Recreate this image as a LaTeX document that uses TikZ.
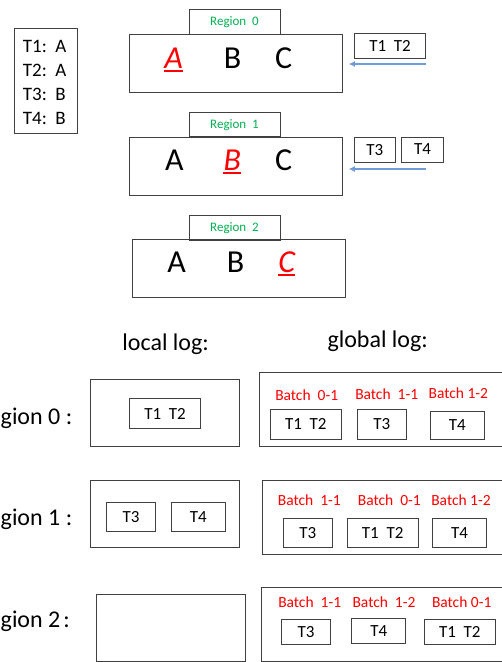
\documentclass[tikz,border=0pt]{standalone}
\usepackage{fontspec}
\setmainfont{Carlito}
\usetikzlibrary{arrows.meta}
\definecolor{boxline}{HTML}{404040}
\definecolor{regiongreen}{HTML}{00B050}
\definecolor{arrowblue}{HTML}{6F9BDB}
\tikzset{
  box/.style={draw=boxline, line width=1, inner sep=0, font=\fontsize{17}{20}\selectfont},
  lab/.style={box, text=regiongreen, font=\fontsize{13}{15}\selectfont},
  big/.style={inner sep=0, anchor=base, font=\fontsize{32}{34}\selectfont},
  hot/.style={big, text=red, font=\fontsize{32}{34}\selectfont\itshape},
  ul/.style={red, line width=1.8},
  feed/.style={arrowblue, line width=1.4, -{Latex[length=6,width=6]}},
  leg/.style={inner sep=0, anchor=base west, font=\fontsize{19}{22}\selectfont},
  head/.style={inner sep=0, anchor=base, font=\fontsize{24}{28}\selectfont},
  rowlab/.style={inner sep=0, anchor=base west, font=\fontsize{24}{28}\selectfont},
  batch/.style={inner sep=0, anchor=base, text=red, font=\fontsize{15.5}{18}\selectfont},
}
\begin{document}
\begin{tikzpicture}[x=1pt,y=-1pt]
\useasboundingbox (0,0) rectangle (502,662);
% legend
\node[box, minimum width=63, minimum height=105] (legend) at (46.2,80.8) {};
\node[leg] (l1) at (22.7,52.7) {T1:\ \ A};
\node[leg] (l2) at (22.7,76.7) {T2:\ \ A};
\node[leg] (l3) at (22.7,100.3) {T3:\ \ B};
\node[leg] (l4) at (22.7,124.2) {T4:\ \ B};
% region 0
\node[lab, minimum width=91, minimum height=24.7] (r0lab) at (234.5,21.7) {Region\ \ 0};
\node[box, minimum width=213.4, minimum height=58] (r0) at (236,63) {};
\node[hot] (r0a) at (173.7,68.3) {A};
\node[big] (r0b) at (232.7,68.3) {B};
\node[big] (r0c) at (283.7,68.3) {C};
\draw[ul] ([yshift=-2.6]r0a.base west) -- ([yshift=-2.6]r0a.base east);
\node[box, minimum width=71.4, minimum height=25, text depth=-3] (in0) at (390,46.2) {T1\ \ T2};
\coordinate (a0s) at (425.7,64);
\draw[feed] (a0s) -- ([xshift=5.6]r0.east |- a0s);
% region 1
\node[lab, minimum width=91, minimum height=24.3] (r1lab) at (234.5,124.8) {Region\ \ 1};
\node[box, minimum width=213.4, minimum height=58] (r1) at (236,166) {};
\node[big] (r1a) at (174.3,170.7) {A};
\node[hot] (r1b) at (232.3,170.7) {B};
\node[big] (r1c) at (283.7,170.7) {C};
\draw[ul] ([yshift=-2.6]r1b.base west) -- ([yshift=-2.6]r1b.base east);
\node[box, minimum width=40.7, minimum height=25, text depth=-3] (in1a) at (374.7,149.5) {T3};
\node[box, minimum width=41.6, minimum height=25, text depth=-3] (in1b) at (422.5,149.5) {T4};
\coordinate (a1s) at (425.7,169);
\draw[feed] (a1s) -- ([xshift=5.6]r1.east |- a1s);
% region 2
\node[lab, minimum width=91, minimum height=24.7] (r2lab) at (234.5,227.7) {Region\ \ 2};
\node[box, minimum width=213, minimum height=57.7] (r2) at (238.8,268.8) {};
\node[big] (r2a) at (176.7,272.2) {A};
\node[big] (r2b) at (235.7,272.2) {B};
\node[hot] (r2c) at (286.7,272.2) {C};
\draw[ul] ([yshift=-2.6]r2c.base west) -- ([yshift=-2.6]r2c.base east);
% headers
\node[head] (hl) at (165.7,350.7) {local log:};
\node[head] (hg) at (377.7,347.7) {global log:};
% row 0
\node[rowlab] (rl0) at (0.5,424.3) {gion 0\ :};
\node[box, minimum width=148.7, minimum height=67.3] (lg0) at (165.3,412.7) {};
\node[box, minimum width=71.4, minimum height=30.4] (lg0a) at (165,413.5) {T1\ \ T2};
\node[box, minimum width=245.7, minimum height=74] (gg0) at (382.2,409.3) {};
\node[batch] (b0a) at (306.7,400.7) {Batch\ \ 0-1};
\node[batch] (b0b) at (386.7,399.3) {Batch\ \ 1-1};
\node[batch] (b0c) at (458.3,398.3) {Batch 1-2};
\node[box, minimum width=71, minimum height=30] (g0a) at (305.8,424.3) {T1\ \ T2};
\node[box, minimum width=49.3, minimum height=30] (g0b) at (381.7,424.3) {T3};
\node[box, minimum width=54.3, minimum height=28] (g0c) at (457.2,425.3) {T4};
% row 1
\node[rowlab] (rl1) at (0.5,525.3) {gion 1\ :};
\node[box, minimum width=148.7, minimum height=67.4] (lg1) at (165.3,514) {};
\node[box, minimum width=48.6, minimum height=28.7] (lg1a) at (131,516.7) {T3};
\node[box, minimum width=54, minimum height=28.7] (lg1b) at (198.3,516.7) {T4};
\node[box, minimum width=242.7, minimum height=73.6] (gg1) at (383.7,517.5) {};
\node[batch] (b1a) at (309.3,505.7) {Batch\ \ 1-1};
\node[batch] (b1b) at (389.3,505.7) {Batch\ \ 0-1};
\node[batch] (b1c) at (461,505.7) {Batch 1-2};
\node[box, minimum width=49, minimum height=29] (g1a) at (307.8,533.2) {T3};
\node[box, minimum width=71.3, minimum height=29] (g1b) at (382.7,533.2) {T1\ \ T2};
\node[box, minimum width=54.4, minimum height=29] (g1c) at (459.5,533.2) {T4};
% row 2
\node[rowlab] (rl2) at (0.5,627) {gion 2\hspace{3pt}:};
\node[box, minimum width=148.7, minimum height=67] (lg2) at (170.7,627.5) {};
\node[box, minimum width=244, minimum height=73.7] (gg2) at (383,624.2) {};
\node[batch] (b2a) at (309.7,607.3) {Batch\ \ 1-1};
\node[batch] (b2b) at (384,607.3) {Batch\ \ 1-2};
\node[batch] (b2c) at (461.7,607.3) {Batch 0-1};
\node[box, minimum width=48.6, minimum height=24.6] (g2a) at (306,632) {T3};
\node[box, minimum width=54, minimum height=24.6] (g2b) at (378.7,631) {T4};
\node[box, minimum width=71, minimum height=24.6] (g2c) at (459.8,632) {T1\ \ T2};
\end{tikzpicture}
\end{document}
